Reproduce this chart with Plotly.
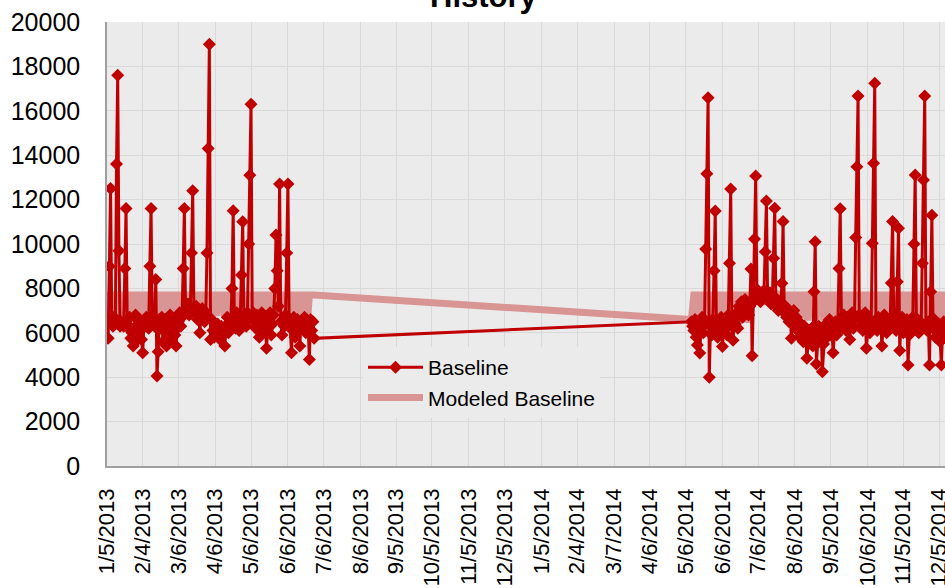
import pandas as pd
import plotly.graph_objects as go

# ---------------- data ----------------
start_2013 = "2013-01-05"   # daily values, first segment
start_2014 = "2014-05-11"   # daily values, second segment

baseline_2013 = [
    6600, 5750, 9000, 12500, 6500, 6300, 6700,
    6400, 13600, 17600, 9700, 6300, 6500, 6400,
    6300, 8900, 11600, 6400, 6200, 6700, 5750,
    6000, 5400, 6200, 6800, 6600, 5700, 6300,
    6500, 5700, 5100, 6400, 6300, 6700, 6500,
    6200, 9000, 11600, 6800, 6500, 6300, 8400,
    4050, 5150, 6600, 6200, 6700, 5600, 6300,
    6600, 5400, 6100, 6400, 6800, 5700, 6300,
    6600, 5900, 5400, 6200, 6500, 6900, 6300,
    6700, 8900, 11600, 6900, 7100, 7300, 6800,
    7000, 9600, 12400, 7000, 6900, 7200, 6600,
    6900, 6000, 6800, 7100, 6700, 6500, 6900,
    9600, 14300, 19000, 5700, 6600, 6100, 5800,
    6200, 5900, 6400, 6000, 5700, 6300, 5900,
    6100, 5400, 6300, 6700, 6000, 6500, 6400,
    8000, 11500, 6600, 6200, 6900, 6400, 6100,
    6700, 8600, 11000, 6500, 6800, 6300, 6900,
    10000, 13100, 16300, 6700, 6900, 6500, 6200,
    6800, 6300, 5800, 6600, 6900, 6400, 6100,
    6700, 5300, 6200, 6600, 6900, 5900, 6400,
    6800, 8000, 10400, 8800, 7200, 12700, 6500,
    5900, 6600, 6300, 6800, 9600, 12700, 6600,
    6200, 5100, 6300, 6700, 5800, 6400, 6600,
    6200, 5400, 6500, 6300, 6300, 6700, 6000,
    6400, 6300, 4800, 6600, 6100, 6500, 5750,
]

baseline_2014 = [
    6500, 6300, 6100, 6600, 5800, 5450, 6400,
    5090, 6200, 6700, 6000, 6500, 9780, 13170,
    16590, 4000, 6300, 5900, 6600, 8800, 11490,
    6200, 5800, 6400, 6100, 6700, 5380, 6000,
    6500, 6200, 5900, 6800, 9130, 12480, 6300,
    5670, 6600, 6400, 6900, 6200, 7200, 6800,
    7400, 6700, 7100, 7500, 6900, 7300, 6800,
    7200, 8870, 4970, 7400, 10230, 13065, 7600,
    7900, 7700, 7400, 7800, 7600, 7900, 9650,
    11940, 7700, 7500, 7800, 7300, 7600, 9360,
    11610, 7200, 7500, 7000, 7400, 7100, 8230,
    11010, 6900, 7200, 6700, 7000, 6500, 6800,
    5750, 6600, 7000, 6300, 6700, 6100, 6500,
    5800, 6400, 6000, 5600, 6300, 5900, 4850,
    5500, 6100, 5700, 6200, 5400, 7850, 10100,
    4600, 5800, 6300, 5600, 6100, 4250, 5500,
    6000, 6400, 5800, 6200, 6600, 5900, 6300,
    5100, 6100, 6500, 5900, 6400, 8900, 11590,
    6600, 6200, 6800, 6500, 6100, 6700, 6300,
    5700, 6500, 6900, 6200, 6600, 10290, 13480,
    16670, 6800, 6300, 6700, 6100, 6500, 6900,
    5300, 6200, 6600, 6000, 6400, 10030, 13640,
    17240, 6500, 6100, 6700, 6300, 6600, 5400,
    6200, 6800, 6400, 6000, 6600, 6200, 6500,
    8240, 11010, 6400, 6800, 6100, 8300, 10710,
    5200, 6300, 6700, 6000, 6500, 6200, 6600,
    4550, 5900, 6400, 6100, 6700, 10000, 13110,
    6300, 6600, 6000, 6500, 6200, 9130, 12880,
    16670, 6400, 6100, 6500, 4550, 7850, 11290,
    6200, 6600, 5800, 6300, 6000, 6400, 5600,
    4550, 6100, 6500, 5900, 6300, 6100,
]

modeled_2013 = [
    6900, 6900, 7700, 7700, 7700, 7700, 7700,
    6900, 6900, 7700, 7700, 7700, 7700, 7700,
    6900, 6900, 7700, 7700, 7700, 7700, 7700,
    6900, 6900, 7700, 7700, 7700, 7700, 7700,
    6900, 6900, 7700, 7700, 7700, 7700, 7700,
    6900, 6900, 7700, 7700, 7700, 7700, 7700,
    6900, 6900, 7700, 7700, 7700, 7700, 7700,
    6900, 6900, 7700, 7700, 7700, 7700, 7700,
    6900, 6900, 7700, 7700, 7700, 7700, 7700,
    6900, 6900, 7700, 7700, 7700, 7700, 7700,
    6900, 6900, 7700, 7700, 7700, 7700, 7700,
    6900, 6900, 7700, 7700, 7700, 7700, 7700,
    6900, 6900, 7700, 7700, 7700, 7700, 7700,
    6900, 6900, 7700, 7700, 7700, 7700, 7700,
    6900, 6900, 7700, 7700, 7700, 7700, 7700,
    6900, 6900, 7700, 7700, 7700, 7700, 7700,
    6900, 6900, 7700, 7700, 7700, 7700, 7700,
    6900, 6900, 7700, 7700, 7700, 7700, 7700,
    6900, 6900, 7700, 7700, 7700, 7700, 7700,
    6900, 6900, 7700, 7700, 7700, 7700, 7700,
    6900, 6900, 7700, 7700, 7700, 7700, 7700,
    6900, 6900, 7700, 7700, 7700, 7700, 7700,
    6900, 6900, 7700, 7700, 7700, 7700, 7700,
    6900, 6900, 7700, 7700, 7700, 7700, 7700,
    6900, 6900, 7700, 7700, 7700, 7700, 7700,
]

modeled_2014 = [
    6600, 7700, 7700, 7700, 7700, 7700, 6600,
    6600, 7700, 7700, 7700, 7700, 7700, 6600,
    6600, 7700, 7700, 7700, 7700, 7700, 6600,
    6600, 7700, 7700, 7700, 7700, 7700, 6600,
    6600, 7700, 7700, 7700, 7700, 7700, 6600,
    6600, 7700, 7700, 7700, 7700, 7700, 6600,
    6600, 7700, 7700, 7700, 7700, 7700, 6600,
    6600, 7700, 7700, 7700, 7700, 7700, 7400,
    7400, 7750, 7750, 7750, 7750, 7750, 7400,
    7400, 7750, 7750, 7750, 7750, 7750, 7400,
    7400, 7750, 7750, 7750, 7750, 7750, 7400,
    7400, 7700, 7700, 7700, 7700, 7700, 6700,
    6700, 7700, 7700, 7700, 7700, 7700, 6700,
    6700, 7700, 7700, 7700, 7700, 7700, 6700,
    6700, 7700, 7700, 7700, 7700, 7700, 6700,
    6700, 7700, 7700, 7700, 7700, 7700, 6700,
    6700, 7700, 7700, 7700, 7700, 7700, 6700,
    6700, 7700, 7700, 7700, 7700, 7700, 6700,
    6700, 7700, 7700, 7700, 7700, 7700, 6700,
    6700, 7700, 7700, 7700, 7700, 7700, 6700,
    6700, 7700, 7700, 7700, 7700, 7700, 6700,
    6700, 7700, 7700, 7700, 7700, 7700, 6700,
    6700, 7700, 7700, 7700, 7700, 7700, 6700,
    6700, 7700, 7700, 7700, 7700, 7700, 6700,
    6700, 7700, 7700, 7700, 7700, 7700, 6700,
    6700, 7700, 7700, 7700, 7700, 7700, 6700,
    6700, 7700, 7700, 7700, 7700, 7700, 6700,
    6700, 7700, 7700, 7700, 7700, 7700, 6700,
    6700, 7700, 7700, 7700, 7700, 7700, 6700,
    6700, 7700, 7700, 7700, 7700, 7700, 6700,
    6700, 7700, 7700, 7700, 7700, 7700,
]

tick_labels = [
    "1/5/2013", "2/4/2013", "3/6/2013", "4/6/2013", "5/6/2013", "6/6/2013",
    "7/6/2013", "8/6/2013", "9/5/2013", "10/5/2013", "11/5/2013", "12/5/2013",
    "1/5/2014", "2/4/2014", "3/7/2014", "4/6/2014", "5/6/2014", "6/6/2014",
    "7/6/2014", "8/6/2014", "9/5/2014", "10/6/2014", "11/5/2014", "12/5/2014",
]
y_ticks = [0, 2000, 4000, 6000, 8000, 10000, 12000, 14000, 16000, 18000, 20000]

# ---------------- build ----------------
dates = list(pd.date_range(start_2013, periods=len(baseline_2013), freq="D")) + \
        list(pd.date_range(start_2014, periods=len(baseline_2014), freq="D"))
baseline = baseline_2013 + baseline_2014
modeled = modeled_2013 + modeled_2014
tick_vals = list(pd.to_datetime(tick_labels, format="%m/%d/%Y"))

FONT = "Liberation Sans, Arial, sans-serif"
W, H = 945, 588
ML, MT, MB = 107, 22, 122
plot_w = W - ML
plot_h = H - MT - MB
day_px = (939 - 107) / 699.0
x_start = pd.Timestamp("2013-01-05")
x_end = x_start + pd.Timedelta(days=plot_w / day_px)

fig = go.Figure()
fig.add_trace(go.Scatter(
    x=dates, y=modeled, mode="lines", name="Modeled Baseline",
    line=dict(color="#d99594", width=7), legendrank=2,
))
fig.add_trace(go.Scatter(
    x=dates, y=baseline, mode="lines+markers", name="Baseline",
    line=dict(color="#c00000", width=3),
    marker=dict(symbol="diamond", size=10, color="#c00000"),
    legendrank=1,
))

fig.add_annotation(
    text="<b>History</b>", xref="paper", yref="paper",
    x=(484 - ML) / plot_w, y=1, xanchor="center", yanchor="bottom",
    yshift=6, showarrow=False,
    font=dict(family=FONT, size=31, color="#000000"),
)

fig.update_layout(
    width=W, height=H,
    margin=dict(l=ML, r=0, t=MT, b=MB, pad=0, autoexpand=False),
    paper_bgcolor="#ffffff", plot_bgcolor="#ebebeb",
    font=dict(family=FONT, color="#000000"),
    showlegend=True,
    legend=dict(
        x=(363 - ML) / plot_w, y=(466 - 347) / plot_h,
        xanchor="left", yanchor="top",
        bgcolor="#ebebeb", borderwidth=0,
        font=dict(family=FONT, size=21, color="#000000"),
        traceorder="normal", tracegroupgap=4, itemwidth=55,
    ),
    xaxis=dict(
        type="date", range=[x_start, x_end], automargin=False,
        tickmode="array", tickvals=tick_vals, ticktext=tick_labels,
        tickangle=-90, tickfont=dict(family=FONT, size=22, color="#000000"),
        ticklabeloverflow="allow",
        showgrid=True, gridcolor="#d9d9d9", gridwidth=1.3,
        showline=True, linecolor="#a0a0a0", linewidth=1.5,
        ticks="outside", ticklen=12, tickcolor="rgba(0,0,0,0)",
        zeroline=False,
    ),
    yaxis=dict(
        range=[0, 20000], automargin=False,
        tickmode="array", tickvals=y_ticks,
        ticktext=[str(v) for v in y_ticks],
        tickfont=dict(family=FONT, size=25, color="#000000"),
        showgrid=True, gridcolor="#d9d9d9", gridwidth=1.3,
        showline=True, linecolor="#a0a0a0", linewidth=1.5,
        ticks="outside", ticklen=20, tickcolor="rgba(0,0,0,0)",
        zeroline=False,
    ),
)

fig.write_html(
    "out.html",
    config={"displayModeBar": False},
    post_script="document.body.style.margin='0px';",
)
